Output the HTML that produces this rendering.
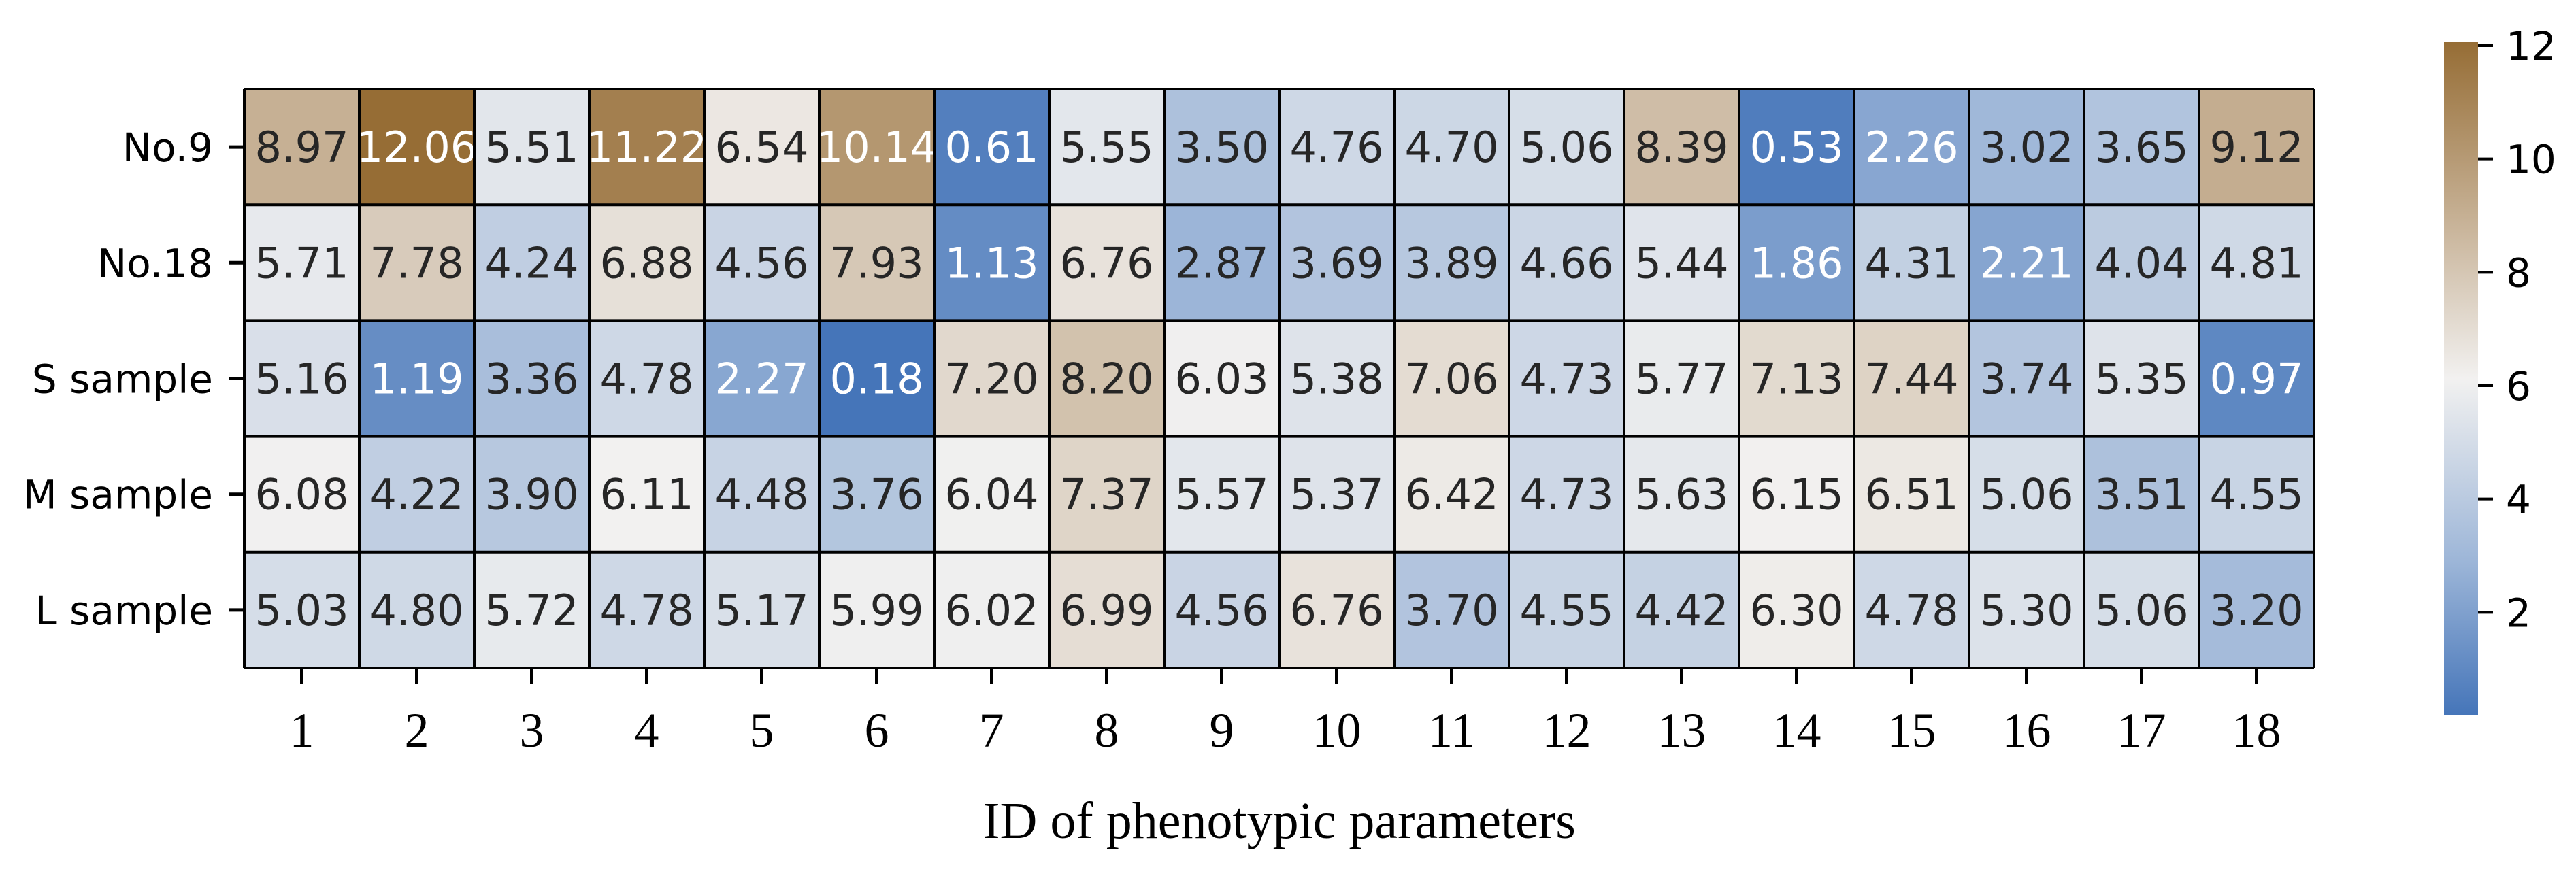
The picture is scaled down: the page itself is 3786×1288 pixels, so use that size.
<!DOCTYPE html>
<html><head><meta charset="utf-8">
<style>
html,body{margin:0;padding:0;background:#fff;}
svg{display:block;}
</style></head>
<body>
<svg id="chart" width="3786" height="1288" xmlns="http://www.w3.org/2000/svg">
<g id="cells"></g>
<g id="grid"></g>
<g id="yaxis"></g>
<g id="xaxis"></g>
<text x="1880" y="1232" text-anchor="middle" font-family="Liberation Serif, serif" font-size="76">ID of phenotypic parameters</text>
<defs><linearGradient id="cbgrad" x1="0" y1="1" x2="0" y2="0"></linearGradient></defs>
<g id="cbar"></g>
</svg>
<script>
const rowLabels = ["No.9","No.18","S sample","M sample","L sample"];
const colLabels = ["1","2","3","4","5","6","7","8","9","10","11","12","13","14","15","16","17","18"];
const rowNo9 = [8.97,12.06,5.51,11.22,6.54,10.14,0.61,5.55,3.50,4.76,4.70,5.06,8.39,0.53,2.26,3.02,3.65,9.12];
const rowNo18 = [5.71,7.78,4.24,6.88,4.56,7.93,1.13,6.76,2.87,3.69,3.89,4.66,5.44,1.86,4.31,2.21,4.04,4.81];
const rowS = [5.16,1.19,3.36,4.78,2.27,0.18,7.20,8.20,6.03,5.38,7.06,4.73,5.77,7.13,7.44,3.74,5.35,0.97];
const rowM = [6.08,4.22,3.90,6.11,4.48,3.76,6.04,7.37,5.57,5.37,6.42,4.73,5.63,6.15,6.51,5.06,3.51,4.55];
const rowL = [5.03,4.80,5.72,4.78,5.17,5.99,6.02,6.99,4.56,6.76,3.70,4.55,4.42,6.30,4.78,5.30,5.06,3.20];
const cbTicks = [2,4,6,8,10,12];

const NS="http://www.w3.org/2000/svg";
const rows=[rowNo9,rowNo18,rowS,rowM,rowL];
const L=359,R=3401,T=131,B=982;
const nC=colLabels.length,nR=rowLabels.length;
const cw=(R-L)/nC,rh=(B-T)/nR;
let all=[].concat(...rows);
const vmin=Math.min(...all),vmax=Math.max(...all);
const stops=[[0,[69,117,185]],[0.23,[157,182,216]],[0.5,[242,241,240]],[0.73,[200,179,152]],[1,[150,109,53]]];
function color(v){
  let t=(v-vmin)/(vmax-vmin);t=Math.max(0,Math.min(1,t));
  for(let i=1;i<stops.length;i++){if(t<=stops[i][0]){const a=stops[i-1],b=stops[i];const f=(t-a[0])/(b[0]-a[0]);
    const c=a[1].map((x,k)=>Math.round(x+(b[1][k]-x)*f));return `rgb(${c})`;}}
  return `rgb(${stops[stops.length-1][1]})`;
}
function mk(tag,attrs,parent){const e=document.createElementNS(NS,tag);for(const k in attrs)e.setAttribute(k,attrs[k]);parent.appendChild(e);return e;}
const cells=document.getElementById('cells');
rows.forEach((row,r)=>{row.forEach((v,c)=>{
  const x=L+c*cw,y=T+r*rh;
  const rect=mk('rect',{x:x,y:y,width:cw,height:rh,fill:color(v)},cells);
  
  
  const t=mk('text',{x:x+cw/2,y:y+rh/2+22,'text-anchor':'middle','font-family':'DejaVu Sans, sans-serif','font-size':62,fill:(v<2.5||v>10)?'#fff':'#262626'},cells);
  t.textContent=v.toFixed(2);
  
  
});});
const grid=document.getElementById('grid');
for(let c=0;c<=nC;c++){mk('line',{x1:L+c*cw,x2:L+c*cw,y1:T,y2:B,stroke:'#000','stroke-width':4},grid);}
for(let r=0;r<=nR;r++){mk('line',{x1:L,x2:R,y1:T+r*rh,y2:T+r*rh,stroke:'#000','stroke-width':4},grid);}
const ya=document.getElementById('yaxis');
rowLabels.forEach((lab,r)=>{const y=T+(r+0.5)*rh;
  const tk=mk('line',{x1:337,x2:359,y1:y,y2:y,stroke:'#000','stroke-width':5},ya);
  
  
  const t=mk('text',{x:313,y:y+21,'text-anchor':'end','font-family':'DejaVu Sans, sans-serif','font-size':58,fill:'#000'},ya);
  t.textContent=lab;
  
  
});
const xa=document.getElementById('xaxis');
colLabels.forEach((lab,c)=>{const x=L+(c+0.5)*cw;
  const tk=mk('line',{x1:x,x2:x,y1:982,y2:1005,stroke:'#000','stroke-width':5},xa);
  
  
  const t=mk('text',{x:x,y:1098,'text-anchor':'middle','font-family':'Liberation Serif, serif','font-size':72,fill:'#000'},xa);
  t.textContent=lab;
  
  
});
const grad=document.getElementById('cbgrad');
stops.forEach(s=>{mk('stop',{offset:s[0],'stop-color':`rgb(${s[1]})`},grad);});
const cb=document.getElementById('cbar');
const cbT=62,cbB=1052,cbL=3592,cbR=3642;
const cbr=mk('rect',{x:cbL,y:cbT,width:cbR-cbL,height:cbB-cbT,fill:'url(#cbgrad)'},cb);


function cy(v){return cbB-(v-vmin)/(vmax-vmin)*(cbB-cbT);}
cbTicks.forEach(v=>{const y=cy(v);
  const tk=mk('line',{x1:cbR,x2:cbR+22,y1:y,y2:y,stroke:'#000','stroke-width':4},cb);
  
  
  const t=mk('text',{x:3683,y:y+21,'font-family':'DejaVu Sans, sans-serif','font-size':58,fill:'#000'},cb);
  t.textContent=v;
  
  
});
</script>
</body></html>
